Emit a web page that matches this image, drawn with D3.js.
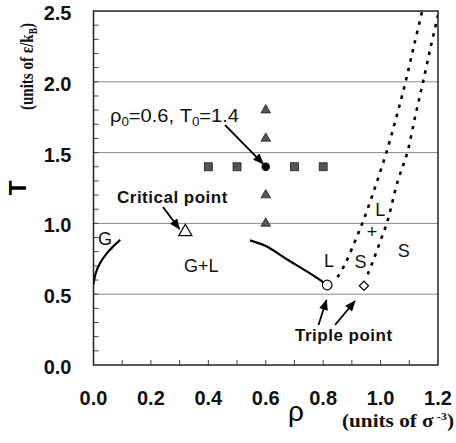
<!DOCTYPE html>
<html>
<head>
<meta charset="utf-8">
<script src="https://cdn.jsdelivr.net/npm/d3@7"></script>
<style>
  body { margin: 0; background: #fff; }
  svg { display: block; }
  .tick-label { font-family: "Liberation Sans", Arial, sans-serif; font-weight: bold; font-size: 20px; fill: #111; }
  .region { font-family: "Liberation Sans", Arial, sans-serif; font-size: 18px; fill: #111; }
  .note { font-family: "Liberation Sans", Arial, sans-serif; font-weight: bold; font-size: 17px; letter-spacing: 0.5px; fill: #111; }
  .unit { font-family: "Liberation Serif", "Times New Roman", serif; font-weight: bold; font-size: 19px; fill: #111; }
</style>
</head>
<body>
<div id="chart"></div>
<script>
// axis ticks
const xTicks = [0.0, 0.2, 0.4, 0.6, 0.8, 1.0, 1.2];
const yTicks = [0.0, 0.5, 1.0, 1.5, 2.0, 2.5];
const gridT = [0.5, 1.0, 1.5, 2.0];

// simulation state points (rho, T)
const squares = [[0.4, 1.4], [0.5, 1.4], [0.7, 1.4], [0.8, 1.4]];
const triangles = [[0.6, 1.8], [0.6, 1.6], [0.6, 1.2], [0.6, 1.0]];
const startPoint = [0.6, 1.4];
const criticalPoint = [0.32, 0.94];
const tripleLiquid = [0.814, 0.565];
const tripleSolid = [0.942, 0.56];

// coexistence curves
const gasCurve = [[0.0, 0.57], [0.008, 0.65], [0.023, 0.72], [0.047, 0.79], [0.07, 0.84], [0.093, 0.885]];
const liquidCurve = [[0.545, 0.88], [0.6, 0.84], [0.675, 0.745], [0.74, 0.665], [0.79, 0.6], [0.805, 0.578]];
const freezingLine = [[0.85, 0.62], [0.878, 0.72], [0.912, 0.88], [0.94, 1.02], [0.98, 1.25], [1.02, 1.5], [1.055, 1.75], [1.087, 2.0], [1.118, 2.27], [1.145, 2.5]];
const meltingLine = [[0.955, 0.64], [0.971, 0.72], [1.0, 0.88], [1.023, 1.01], [1.06, 1.3], [1.093, 1.5], [1.12, 1.75], [1.148, 2.0], [1.175, 2.25], [1.2, 2.47]];

const W = 456, H = 443;
const margin = {left: 93.5, top: 11, right: 18, bottom: 78};
const iw = W - margin.left - margin.right;
const ih = H - margin.top - margin.bottom;

const svg = d3.select('#chart').append('svg')
    .attr('width', W)
    .attr('height', H);

const x = d3.scaleLinear().domain([0, 1.2]).range([0, iw]);
const y = d3.scaleLinear().domain([0, 2.5]).range([ih, 0]);

const g = svg.append('g').attr('transform', `translate(${margin.left},${margin.top})`);

svg.append('defs').append('clipPath').attr('id', 'plot-clip')
    .append('rect').attr('width', iw).attr('height', ih);

svg.select('defs').append('marker')
    .attr('id', 'arrow')
    .attr('viewBox', '0 0 12 10')
    .attr('refX', 11).attr('refY', 5)
    .attr('markerWidth', 12).attr('markerHeight', 9)
    .attr('markerUnits', 'userSpaceOnUse')
    .attr('orient', 'auto')
    .append('path').attr('d', 'M0,0 L12,5 L0,10 z').attr('fill', '#000');

// grid
g.selectAll('.grid').data(gridT).enter().append('line')
    .attr('x1', 0).attr('x2', iw)
    .attr('y1', d => y(d)).attr('y2', d => y(d))
    .attr('stroke', '#8a8a8a').attr('stroke-width', 1);

// minor ticks, inside
const minorX = d3.range(1, 12).map(i => i / 10);
const minorY = d3.range(1, 25).map(i => i / 10);
g.selectAll('.xt').data(minorX).enter().append('line')
    .attr('x1', d => x(d)).attr('x2', d => x(d))
    .attr('y1', ih).attr('y2', ih - 5)
    .attr('stroke', '#444').attr('stroke-width', 1);
g.selectAll('.yt').data(minorY).enter().append('line')
    .attr('x1', 0).attr('x2', 5)
    .attr('y1', d => y(d)).attr('y2', d => y(d))
    .attr('stroke', '#444').attr('stroke-width', 1);

// frame
g.append('rect').attr('width', iw).attr('height', ih)
    .attr('fill', 'none').attr('stroke', '#222').attr('stroke-width', 1.5);

// tick labels
g.selectAll('.xl').data(xTicks).enter().append('text')
    .attr('class', 'tick-label')
    .attr('x', d => x(d)).attr('y', ih + 40)
    .attr('text-anchor', 'middle')
    .text(d => d.toFixed(1));
g.selectAll('.yl').data(yTicks).enter().append('text')
    .attr('class', 'tick-label')
    .attr('x', -22).attr('y', d => y(d) + 9)
    .attr('text-anchor', 'end')
    .text(d => d.toFixed(1));

// curves
const line = d3.line().x(d => x(d[0])).y(d => y(d[1])).curve(d3.curveCatmullRom);
const plot = g.append('g').attr('clip-path', 'url(#plot-clip)');

plot.append('path').datum(gasCurve).attr('d', line)
    .attr('fill', 'none').attr('stroke', '#000').attr('stroke-width', 2.2);
plot.append('path').datum(liquidCurve).attr('d', line)
    .attr('fill', 'none').attr('stroke', '#000').attr('stroke-width', 2.2);
[freezingLine, meltingLine].forEach(l => {
    plot.append('path').datum(l).attr('d', line)
        .attr('fill', 'none').attr('stroke', '#000')
        .attr('stroke-width', 2.6).attr('stroke-dasharray', '3.5,6');
});

// simulation points
g.selectAll('.sq').data(squares).enter().append('rect')
    .attr('x', d => x(d[0]) - 4).attr('y', d => y(d[1]) - 4)
    .attr('width', 8).attr('height', 8)
    .attr('fill', '#555').attr('stroke', '#222').attr('stroke-width', 0.8);

const tri = d3.symbol().type(d3.symbolTriangle).size(40);
g.selectAll('.tri').data(triangles).enter().append('path')
    .attr('d', tri)
    .attr('transform', d => `translate(${x(d[0])},${y(d[1])})`)
    .attr('fill', '#555').attr('stroke', '#222').attr('stroke-width', 0.8);

g.append('circle')
    .attr('cx', x(startPoint[0])).attr('cy', y(startPoint[1])).attr('r', 4.2)
    .attr('fill', '#000');

g.append('path')
    .attr('d', d3.symbol().type(d3.symbolTriangle).size(75))
    .attr('transform', `translate(${x(criticalPoint[0])},${y(criticalPoint[1])})`)
    .attr('fill', '#fff').attr('stroke', '#000').attr('stroke-width', 1.2);

g.append('circle')
    .attr('cx', x(tripleLiquid[0])).attr('cy', y(tripleLiquid[1])).attr('r', 4.8)
    .attr('fill', '#fff').attr('stroke', '#000').attr('stroke-width', 1.2);

g.append('path')
    .attr('d', d3.symbol().type(d3.symbolSquare).size(42))
    .attr('transform', `translate(${x(tripleSolid[0])},${y(tripleSolid[1])}) rotate(45)`)
    .attr('fill', '#fff').attr('stroke', '#000').attr('stroke-width', 1.2);

// region labels
const regions = [
    {t: 'G', p: [0.04, 0.85]},
    {t: 'G+L', p: [0.375, 0.66]},
    {t: 'L', p: [0.82, 0.69]},
    {t: 'S', p: [0.93, 0.685]},
    {t: 'S', p: [1.081, 0.765]},
    {t: 'L', p: [0.999, 1.05]},
    {t: '+', p: [0.97, 0.9]}
];
g.selectAll('.reg').data(regions).enter().append('text')
    .attr('class', 'region')
    .attr('x', d => x(d.p[0])).attr('y', d => y(d.p[1]))
    .attr('text-anchor', 'middle')
    .text(d => d.t);

// annotation: rho0, T0
const ann = svg.append('text').attr('class', 'region')
    .attr('x', 110).attr('y', 122)
    .attr('textLength', 129).attr('lengthAdjust', 'spacingAndGlyphs');
ann.append('tspan').text('ρ');
ann.append('tspan').attr('font-size', 12).attr('dy', 4).text('0');
ann.append('tspan').attr('dy', -4).text('=0.6, T');
ann.append('tspan').attr('font-size', 12).attr('dy', 4).text('0');
ann.append('tspan').attr('dy', -4).text('=1.4');

const arrows = [
    [[225, 125], [x(startPoint[0]) + margin.left - 2.5, y(startPoint[1]) + margin.top - 3]],
    [[163, 207], [179.5, 229]],
    [[318.5, 325], [326.5, 300]],
    [[335, 325], [355, 301]]
];
svg.selectAll('.arr').data(arrows).enter().append('line')
    .attr('x1', d => d[0][0]).attr('y1', d => d[0][1])
    .attr('x2', d => d[1][0]).attr('y2', d => d[1][1])
    .attr('stroke', '#000').attr('stroke-width', 1.8)
    .attr('marker-end', 'url(#arrow)');

svg.append('text').attr('class', 'note')
    .attr('x', 117).attr('y', 203).text('Critical point');
svg.append('text').attr('class', 'note')
    .attr('x', 295).attr('y', 341).text('Triple point');

// axis titles
svg.append('text')
    .attr('transform', 'translate(26,188) rotate(-90)')
    .attr('text-anchor', 'middle')
    .style('font-family', '"Liberation Sans", Arial, sans-serif')
    .style('font-weight', 'bold').style('font-size', '24px')
    .text('T');

const yUnit = svg.append('text').attr('class', 'unit')
    .attr('transform', 'translate(33,110) rotate(-90)')
    .attr('textLength', 87).attr('lengthAdjust', 'spacingAndGlyphs');
yUnit.append('tspan').text('(units of ε/k');
yUnit.append('tspan').attr('font-size', 12).attr('dy', 4).text('B');
yUnit.append('tspan').attr('dy', -4).text(')');

svg.append('text')
    .attr('x', 296).attr('y', 421).attr('text-anchor', 'middle')
    .style('font-family', '"Liberation Sans", Arial, sans-serif')
    .style('font-size', '28px')
    .text('ρ');

const xUnit = svg.append('text').attr('class', 'unit')
    .attr('x', 342).attr('y', 427)
    .attr('textLength', 112).attr('lengthAdjust', 'spacingAndGlyphs');
xUnit.append('tspan').text('(units of σ');
xUnit.append('tspan').attr('font-size', 11).attr('dy', -7).text(' -3');
xUnit.append('tspan').attr('dy', 7).text(')');
</script>
</body>
</html>
